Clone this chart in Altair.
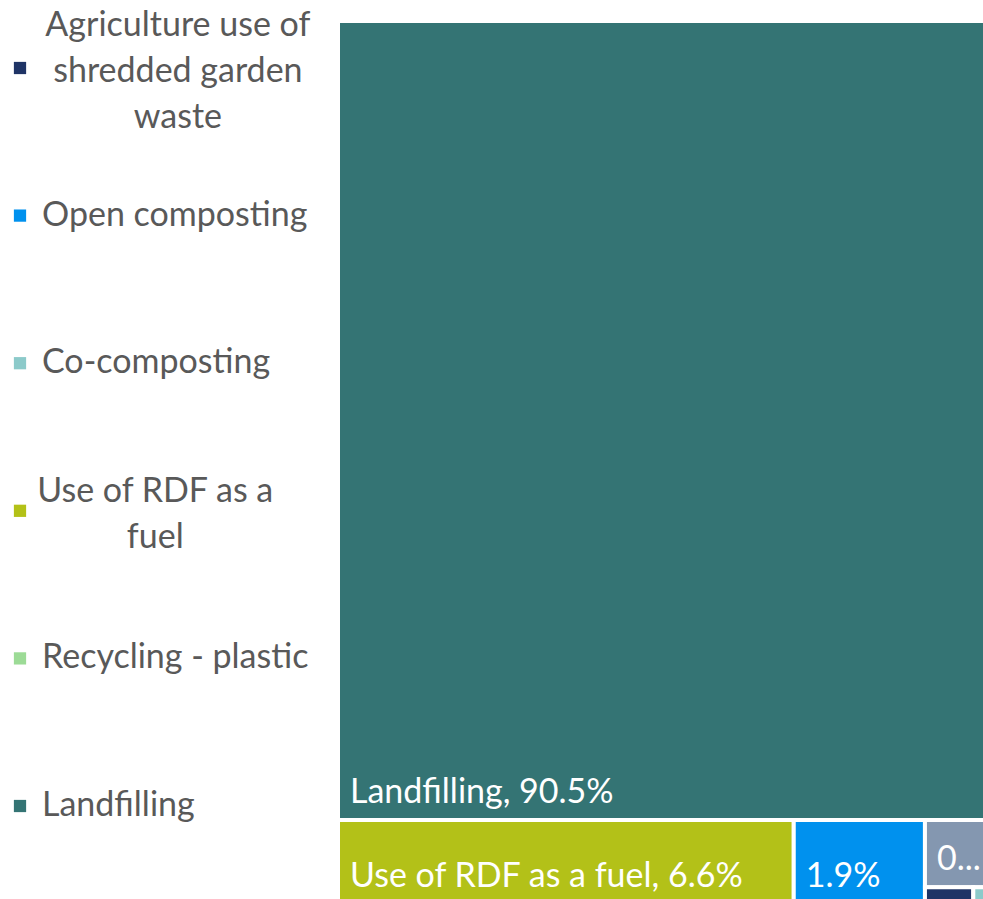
import textwrap
import altair as alt
import pandas as pd

# ---------------- data ----------------
categories = [
    "Landfilling",
    "Use of RDF as a fuel",
    "Open composting",
    "Recycling - paper",
    "Agriculture use of shredded garden waste",
    "Co-composting",
    "Recycling - plastic",
]
shares = [90.5, 6.6, 1.9, 0.8, 0.14, 0.04, 0.02]
cell_labels = ["Landfilling, 90.5%", "Use of RDF as a fuel, 6.6%", "1.9%", "0...", "", "", ""]
colors = ["#347474", "#B3C118", "#0091EE", "#8497B0", "#1F3466", "#8CCACA", "#9CDB96"]
legend_order = [
    "Agriculture use of shredded garden waste",
    "Open composting",
    "Co-composting",
    "Use of RDF as a fuel",
    "Recycling - plastic",
    "Landfilling",
]

# ---------------- layout constants (style) ----------------
W, H = 983, 899
T_LEFT, T_RIGHT, T_TOP, T_BOTTOM = 338, 994, 21, 904
ASPECT = (T_RIGHT - T_LEFT) / (T_BOTTOM - T_TOP)
FONT = "Lato"
LEG_FS = 34
LAB_FS = 34
LINE_H = 46


# ---------------- squarified treemap layout ----------------
def worst(row, side):
    s = sum(row)
    return max(max(side * side * r / (s * s), (s * s) / (side * side * r)) for r in row)


def squarify(vals, x, y, w, h):
    total = sum(vals)
    areas = [v * w * h / total for v in vals]
    out = []
    while areas:
        side = min(w, h)
        row = [areas[0]]
        i = 1
        while i < len(areas) and worst(row + [areas[i]], side) <= worst(row, side):
            row.append(areas[i])
            i += 1
        s = sum(row)
        if w >= h:
            cw = s / h
            yy = y
            for a in row:
                rh = a / cw
                out.append((x, yy, x + cw, yy + rh))
                yy += rh
            x += cw
            w -= cw
        else:
            rh = s / w
            xx = x
            for a in row:
                rw = a / rh
                out.append((xx, y, xx + rw, y + rh))
                xx += rw
            y += rh
            h -= rh
        areas = areas[i:]
    return out


rects = squarify(shares, 0.0, 0.0, ASPECT, 1.0)
df = pd.DataFrame(
    {
        "cat": categories,
        "share": shares,
        "label": cell_labels,
        "x0": [r[0] for r in rects],
        "y0": [r[1] for r in rects],
        "x1": [r[2] for r in rects],
        "y1": [r[3] for r in rects],
    }
)

xs = alt.Scale(domain=[0, ASPECT], range=[T_LEFT, T_RIGHT], nice=False, zero=False)
ys = alt.Scale(domain=[0, 1], range=[T_TOP, T_BOTTOM], nice=False, zero=False)
cs = alt.Scale(domain=categories, range=colors)

base = alt.Chart(df)
cells = base.mark_rect(stroke="white", strokeWidth=4, clip=True).encode(
    x=alt.X("x0:Q", scale=xs, axis=None),
    x2="x1:Q",
    y=alt.Y("y0:Q", scale=ys, axis=None),
    y2="y1:Q",
    color=alt.Color("cat:N", scale=cs, legend=None),
    tooltip=["cat:N", "share:Q"],
)
labels = base.transform_filter("datum.label != ''").mark_text(
    align="left", baseline="alphabetic", dx=12, dy=-17, font=FONT, fontSize=LAB_FS,
    color="white", clip=True,
).encode(
    x=alt.X("x0:Q", scale=xs, axis=None),
    y=alt.Y("y1:Q", scale=ys, axis=None),
    text="label:N",
)

# ---------------- legend (manual, Excel-like) ----------------
leg = pd.DataFrame(
    {
        "cat": legend_order,
        "idx": list(range(len(legend_order))),
        "txt": ["\n".join(textwrap.wrap(c, 19)) for c in legend_order],
    }
)
leg["nlines"] = leg["txt"].str.count("\n") + 1
ly = alt.Scale(domain=[0, len(legend_order) - 1], range=[68, 806], nice=False, zero=False)

lbase = alt.Chart(leg)
squares = lbase.mark_square(size=150, opacity=1).encode(
    x=alt.value(20),
    y=alt.Y("idx:Q", scale=ly, axis=None),
    color=alt.Color("cat:N", scale=cs, legend=None),
)
layers = [cells, labels, squares]
single = lbase.transform_filter("datum.nlines == 1").mark_text(
    align="left", baseline="middle", font=FONT, fontSize=LEG_FS, color="#595959",
).encode(x=alt.value(42), y=alt.Y("idx:Q", scale=ly, axis=None), text="txt:N")
layers.append(single)
for _, r in leg[leg["nlines"] > 1].iterrows():
    longest = max(len(s) for s in r["txt"].split("\n"))
    cx = 42 + 15.1 * longest / 2
    n = int(r["nlines"])
    layers.append(
        lbase.transform_filter(alt.datum.cat == r["cat"]).mark_text(
            align="center", baseline="middle", font=FONT, fontSize=LEG_FS, color="#595959",
            lineBreak="\n", lineHeight=LINE_H, dy=-(n - 1) * LINE_H / 2 + 4,
        ).encode(x=alt.value(cx), y=alt.Y("idx:Q", scale=ly, axis=None), text="txt:N")
    )

chart = (
    alt.layer(*layers)
    .resolve_scale(y="independent", x="independent", color="shared")
    .properties(width=W, height=H, autosize=alt.AutoSizeParams(type="none"), padding=0,
                background="white")
    .configure_view(stroke=None)
)

chart.save("out.html", embed_options={"renderer": "svg", "actions": False})
